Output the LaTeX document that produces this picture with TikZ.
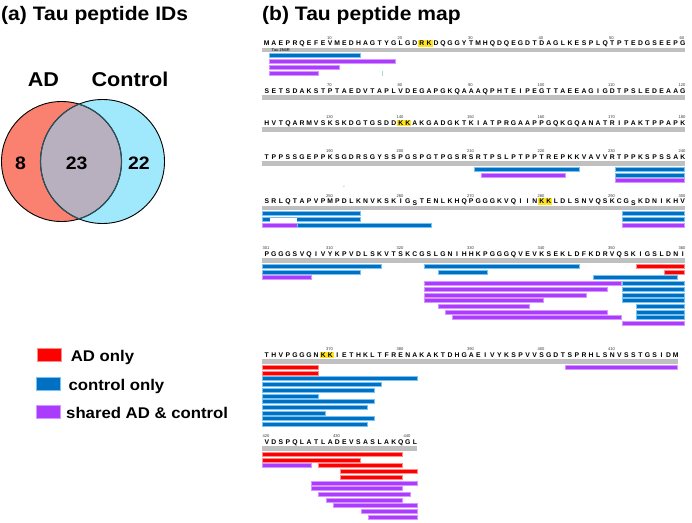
\documentclass[tikz,border=0pt]{standalone}
\usepackage{fontspec}
\setmainfont{Liberation Sans}
\newfontfamily\headfont[FakeStretch=1.08]{Liberation Sans}
\definecolor{adred}{RGB}{255,0,0}
\definecolor{adredl}{RGB}{255,140,140}
\definecolor{ctlblue}{RGB}{0,112,196}
\definecolor{ctlbluel}{RGB}{120,195,240}
\definecolor{shpur}{RGB}{170,60,255}
\definecolor{shpurl}{RGB}{215,150,255}
\definecolor{graybar}{RGB}{192,192,192}
\definecolor{hly}{RGB}{255,228,30}
\definecolor{vad}{RGB}{250,128,112}
\definecolor{vctl}{RGB}{160,232,252}
\definecolor{vlens}{RGB}{184,176,190}
\definecolor{vedge}{RGB}{40,85,95}
\definecolor{tickg}{RGB}{160,225,185}

% sequence letters
\newcommand\seqrow[3]{\def\seqr{#1}\def\seqy{#2}\def\seqi{1}\seqloop#3\relax}
\def\seqloop#1{\ifx\relax#1\expandafter\seqstop\else\expandafter\seqdo\fi{#1}}
\def\seqstop#1{}
\def\seqdo#1{%
  \if s#1%
    \node[aa,yshift=-1.5pt] (aa-\seqr-\seqi) at ({266.8+(\seqi-1)*7.05},{\seqy+2.4}) {S};%
  \else
    \node[aa] (aa-\seqr-\seqi) at ({266.8+(\seqi-1)*7.05},{\seqy+2.4}) {#1};%
  \fi
  \pgfmathtruncatemacro\seqi{\seqi+1}%
  \seqloop}
% number label: yL, index, label
\newcommand\numlab[3]{\node[num] (n-#3) at ({266.8+(#2-1)*7.05-0.8},{#1-4.3}) {#3};}
% peptide bar: yL, lane, start, end, style
\newcommand\pep[5]{\path[#5] ({262.3+(#3-1)*7.05},{#1+10.2+(#2-1)*5.72}) rectangle ({261.7+#4*7.05},{#1+14.2+(#2-1)*5.72});}
% gray bar: yL, length
\newcommand\gbar[2]{\fill[graybar] (262,{#1+4}) rectangle ({262+#2*7.05},{#1+8.5});}
% highlight two residues: yL, first index
\newcommand\hl[2]{\fill[hly] ({266.8+(#2-1)*7.05-3.6},{#1-3.3}) rectangle ({266.8+#2*7.05+3.6},{#1+3.3});}

\begin{document}
\begin{tikzpicture}[x=1pt,y=-1pt,
  aa/.style={font=\fontsize{6.8}{6.8}\selectfont\bfseries, inner sep=0pt, anchor=base},
  num/.style={font=\fontsize{4.1}{4.1}\selectfont, text=black!80, inner sep=0pt, anchor=base},
  ad/.style={fill=adred, draw=adredl, line width=0.5pt},
  ctl/.style={fill=ctlblue, draw=ctlbluel, line width=0.5pt},
  sh/.style={fill=shpur, draw=shpurl, line width=0.5pt},
  title/.style={font=\headfont\fontsize{19.5}{20}\selectfont\bfseries, inner sep=0pt},
  vlab/.style={font=\headfont\fontsize{20}{20}\selectfont\bfseries, inner sep=0pt, anchor=base},
  vnum/.style={font=\headfont\fontsize{18}{18}\selectfont\bfseries, inner sep=0pt, anchor=base},
  leg/.style={font=\headfont\fontsize{15.5}{16}\selectfont\bfseries, inner sep=0pt, anchor=base west}]
\useasboundingbox (0,0) rectangle (692,522);
\fill[white] (0,0) rectangle (692,522);

% ---------- titles
\node[title, anchor=base west] (ta) at (1,20) {(a) Tau peptide IDs};
\node[title, anchor=base west] (tb) at (262,20) {(b) Tau peptide map};

% ---------- Venn
\fill[vad] (61.5,161.5) circle[radius=60pt];
\fill[vctl] (102.5,161.5) circle[radius=62pt];
\begin{scope}
  \clip (61.5,161.5) circle[radius=60pt];
  \fill[vlens] (102.5,161.5) circle[radius=62pt];
\end{scope}
\draw[black, line width=0.9pt] (61.5,161.5) circle[radius=60pt];
\draw[black, line width=0.9pt] (102.5,161.5) circle[radius=62pt];
\begin{scope}
  \clip (61.5,161.5) circle[radius=60pt];
  \draw[vedge, line width=1.1pt] (102.5,161.5) circle[radius=62pt];
\end{scope}
\begin{scope}
  \clip (102.5,161.5) circle[radius=62pt];
  \draw[vedge, line width=1.1pt] (61.5,161.5) circle[radius=60pt];
\end{scope}
\node[vlab] (lad) at (43.5,86) {AD};
\node[vlab] (lctl) at (130,86) {Control};
\node[vnum] (v8) at (20.5,169.5) {8};
\node[vnum] (v23) at (76.7,169.5) {23};
\node[vnum] (v22) at (139,169.5) {22};

% ---------- legend
\path[ad] (37.3,348.5) rectangle (61.5,361.5);
\node[leg] (legad) at (70.7,361.5) {AD only};
\path[ctl] (35.9,377) rectangle (60,390);
\node[leg] (legctl) at (68.3,390) {control only};
\path[sh] (35.9,405.3) rectangle (60,418.3);
\node[leg] (legsh) at (66,418.3) {shared AD \& control};

% ---------- gray bars
\gbar{43.5}{60}
\gbar{91}{60}
\gbar{123}{60}
\gbar{157}{60}
\gbar{201.5}{60}
\gbar{254}{60}
\gbar{355}{59}
\gbar{442}{22}
\node[font=\fontsize{4}{4}\selectfont\bfseries, text=black!80, inner sep=0pt, anchor=west] (taulab) at (271.5,49.9) {Tau 2N4R};

% ---------- highlights
\hl{43.5}{23}
\hl{123}{20}
\hl{201.5}{40}
\hl{355}{9}

% ---------- sequence
\seqrow{1}{43.5}{MAEPRQEFEVMEDHAGTYGLGDRKDQGGYTMHQDQEGDTDAGLKESPLQTPTEDGSEEPG}
\seqrow{2}{91}{SETSDAKSTPTAEDVTAPLVDEGAPGKQAAAQPHTEIPEGTTAEEAGIGDTPSLEDEAAG}
\seqrow{3}{123}{HVTQARMVSKSKDGTGSDDKKAKGADGKTKIATPRGAAPPGQKGQANATRIPAKTPPAPK}
\seqrow{4}{157}{TPPSSGEPPKSGDRSGYSSPGSPGTPGSRSRTPSLPTPPTREPKKVAVVRTPPKSPSSAK}
\seqrow{5}{201.5}{SRLQTAPVPMPDLKNVKSKIGsTENLKHQPGGGKVQIINKKLDLSNVQSKCGsKDNIKHV}
\seqrow{6}{254}{PGGGSVQIVYKPVDLSKVTSKCGSLGNIHHKPGGGQVEVKSEKLDFKDRVQSKIGSLDNI}
\seqrow{7}{355}{THVPGGGNKKIETHKLTFRENAKAKTDHGAEIVYKSPVVSGDTSPRHLSNVSSTGSIDM}
\seqrow{8}{442}{VDSPQLATLADEVSASLAKQGL}

% ---------- numbers
\foreach \l in {10,20,...,60} {\numlab{43.5}{\l}{\l}}
\foreach \l in {70,80,...,120} {\numlab{91}{\l-60}{\l}}
\foreach \l in {130,140,...,180} {\numlab{123}{\l-120}{\l}}
\foreach \l in {190,200,...,240} {\numlab{157}{\l-180}{\l}}
\foreach \l in {250,260,...,300} {\numlab{201.5}{\l-240}{\l}}
\foreach \l in {301,310,320,330,340,350,360} {\numlab{254}{\l-300}{\l}}
\foreach \l in {370,380,...,410} {\numlab{355}{\l-360}{\l}}
\foreach \l in {420,430,440} {\numlab{442}{\l-419}{\l}}

% ---------- peptides row 1
\pep{43.5}{1}{2}{14}{ctl}
\pep{43.5}{2}{2}{19}{sh}
\pep{43.5}{3}{2}{11}{sh}
\pep{43.5}{4}{2}{8}{sh}
\draw[tickg, line width=0.6pt] (382.7,70.9) -- (382.7,75.6);

% row 4
\pep{157}{1}{31}{45}{ctl}
\pep{157}{1}{51}{60}{ctl}
\pep{157}{2}{32}{43}{sh}
\pep{157}{2}{51}{60}{ctl}
\pep{157}{3}{51}{60}{sh}
\node[font=\fontsize{2.5}{2.5}\selectfont, text=black!60, inner sep=0pt] (mark) at (344,186.5) {x};

% row 5
\pep{201.5}{1}{1}{14}{ctl}
\pep{201.5}{1}{52}{60}{ctl}
\pep{201.5}{2}{1}{14}{ctl}
\fill[white] (269.6,218.4) rectangle (297.4,221.5);
\pep{201.5}{2}{52}{60}{ctl}
\pep{201.5}{3}{1}{5}{sh}
\pep{201.5}{3}{6}{24}{ctl}
\pep{201.5}{3}{52}{60}{sh}

% row 6
\pep{254}{1}{1}{17}{ctl}
\pep{254}{1}{24}{45}{ctl}
\pep{254}{1}{54}{60}{ad}
\pep{254}{2}{1}{14}{ctl}
\pep{254}{2}{26}{32}{ctl}
\pep{254}{2}{58}{60}{ad}
\pep{254}{3}{1}{7}{sh}
\pep{254}{3}{48}{59}{ctl}
\pep{254}{4}{24}{51}{sh}
\pep{254}{4}{52}{60}{ctl}
\pep{254}{5}{24}{49}{sh}
\pep{254}{5}{52}{60}{ctl}
\pep{254}{6}{24}{46}{sh}
\pep{254}{6}{52}{60}{ctl}
\pep{254}{7}{24}{40}{sh}
\pep{254}{7}{52}{60}{ctl}
\pep{254}{8}{26}{38}{sh}
\pep{254}{8}{54}{60}{ctl}
\pep{254}{9}{27}{49}{sh}
\pep{254}{9}{54}{60}{ctl}
\pep{254}{10}{28}{51}{sh}
\pep{254}{10}{54}{60}{ctl}
\pep{254}{11}{52}{60}{sh}

% row 7
\pep{355}{1}{1}{8}{ad}
\pep{355}{1}{44}{59}{sh}
\pep{355}{2}{1}{8}{ad}
\pep{355}{3}{1}{22}{ctl}
\pep{355}{4}{1}{17}{ctl}
\pep{355}{5}{1}{16}{ctl}
\pep{355}{6}{1}{8}{ctl}
\pep{355}{7}{1}{16}{ctl}
\pep{355}{8}{1}{15}{ctl}
\pep{355}{9}{1}{9}{ctl}
\pep{355}{10}{1}{16}{ctl}
\pep{355}{11}{1}{15}{ctl}

% row 8
\pep{442}{1}{1}{20}{ad}
\pep{442}{2}{1}{14}{ad}
\pep{442}{3}{1}{7}{sh}
\pep{442}{3}{9}{20}{ad}
\pep{442}{4}{12}{22}{ad}
\pep{442}{5}{12}{20}{ad}
\pep{442}{6}{8}{22}{sh}
\pep{442}{7}{8}{20}{sh}
\pep{442}{8}{9}{21}{sh}
\pep{442}{9}{10}{20}{sh}
\pep{442}{10}{11}{22}{sh}
\pep{442}{11}{15}{22}{sh}
\pep{442}{12}{16}{22}{sh}
\end{tikzpicture}
\end{document}
